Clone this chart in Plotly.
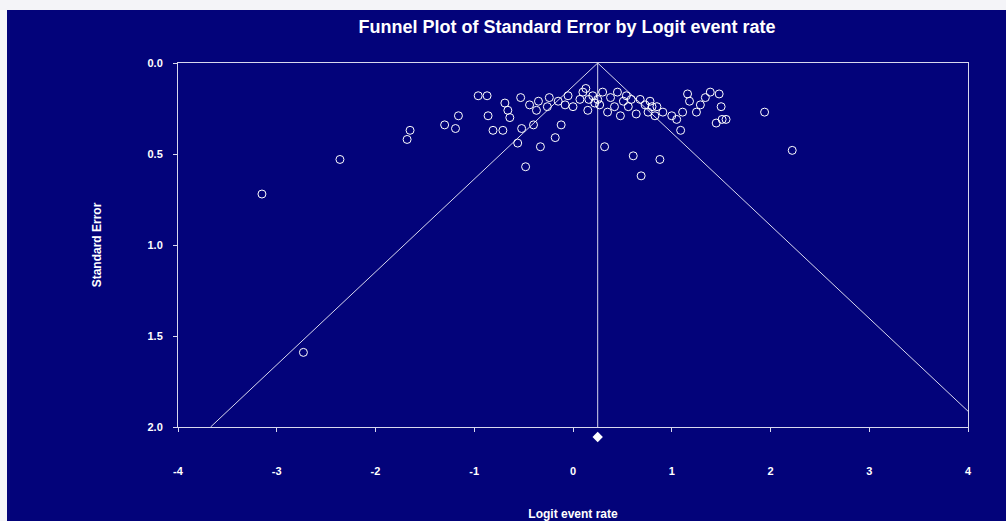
import plotly.graph_objects as go

# Study data (logit event rate, standard error)
logit_rate = [-3.15, -2.73, -2.36, -1.68, -1.65, -1.30, -1.19, -1.16, -0.96, -0.87,
              -0.86, -0.81, -0.71, -0.69, -0.66, -0.64, -0.53, -0.56, -0.52, -0.48,
              -0.44, -0.40, -0.37, -0.35, -0.33, -0.26, -0.24, -0.18, -0.15, -0.12,
              -0.08, -0.05, 0.00, 0.07, 0.10, 0.13, 0.15, 0.16, 0.20, 0.22,
              0.25, 0.27, 0.30, 0.32, 0.35, 0.38, 0.42, 0.45, 0.48, 0.51,
              0.54, 0.56, 0.59, 0.61, 0.64, 0.68, 0.69, 0.73, 0.76, 0.78,
              0.80, 0.83, 0.85, 0.88, 0.91, 1.00, 1.05, 1.09, 1.11, 1.16,
              1.18, 1.25, 1.29, 1.34, 1.39, 1.45, 1.48, 1.50, 1.51, 1.55,
              1.94, 2.22]
std_error = [0.72, 1.59, 0.53, 0.42, 0.37, 0.34, 0.36, 0.29, 0.18, 0.18,
             0.29, 0.37, 0.37, 0.22, 0.26, 0.30, 0.19, 0.44, 0.36, 0.57,
             0.23, 0.34, 0.26, 0.21, 0.46, 0.24, 0.19, 0.41, 0.21, 0.34,
             0.23, 0.18, 0.24, 0.20, 0.16, 0.14, 0.26, 0.20, 0.18, 0.22,
             0.20, 0.23, 0.16, 0.46, 0.27, 0.19, 0.24, 0.16, 0.29, 0.21,
             0.18, 0.24, 0.20, 0.51, 0.28, 0.20, 0.62, 0.23, 0.27, 0.21,
             0.24, 0.29, 0.24, 0.53, 0.27, 0.29, 0.31, 0.37, 0.27, 0.17,
             0.21, 0.27, 0.23, 0.19, 0.16, 0.33, 0.17, 0.24, 0.31, 0.31,
             0.27, 0.48]

pooled_estimate = 0.25
diamond_se = 2.055
se_max = 2.0
z_value = 1.96

x_ticks = [-4, -3, -2, -1, 0, 1, 2, 3, 4]
y_ticks = [0.0, 0.5, 1.0, 1.5, 2.0]

bg = "#03037a"
line_col = "#d8d8ee"
font_family = "Arial, Liberation Sans, sans-serif"

W, H = 1006, 521
L, R, T = 178, 38, 63
axis_bottom_px = 427          # pixel row of SE = 2.0
B = 70                         # extra room below for the pooled diamond
pw = W - L - R
ph = H - T - B
main_frac = (axis_bottom_px - T) / ph
px_per_unit = (axis_bottom_px - T) / se_max
y2_bottom = ph / px_per_unit   # SE value at the bottom of the extended area

fig = go.Figure()

# funnel limits
fig.add_trace(go.Scatter(
    x=[pooled_estimate - z_value * se_max, pooled_estimate, pooled_estimate + z_value * se_max],
    y=[se_max, 0, se_max],
    mode="lines", line=dict(color=line_col, width=1), hoverinfo="skip", showlegend=False))
# vertical line at pooled estimate
fig.add_trace(go.Scatter(
    x=[pooled_estimate, pooled_estimate], y=[0, se_max],
    mode="lines", line=dict(color=line_col, width=1), hoverinfo="skip", showlegend=False))
# studies
fig.add_trace(go.Scatter(
    x=logit_rate, y=std_error, mode="markers",
    marker=dict(symbol="circle-open", size=8, color="white", line=dict(width=1, color="white")),
    showlegend=False))
# pooled diamond (on an invisible axis sharing the same scale, extended downward)
fig.add_trace(go.Scatter(
    x=[pooled_estimate], y=[diamond_se], mode="markers", yaxis="y2", cliponaxis=False,
    marker=dict(symbol="diamond", size=8, color="white"), showlegend=False))

shapes = [
    dict(type="rect", xref="paper", yref="paper", layer="below",
         x0=-L / pw - 0.01, x1=1 + R / pw + 0.01, y0=1 + (T - 10) / ph, y1=1 + T / ph + 0.01,
         fillcolor="#f4f4f8", line=dict(width=0)),
    dict(type="rect", xref="paper", yref="paper", layer="below",
         x0=-L / pw - 0.01, x1=-(L - 7) / pw, y0=-B / ph - 0.01, y1=1 + T / ph + 0.01,
         fillcolor="#f4f4f8", line=dict(width=0)),
]

fig.update_layout(
    width=W, height=H,
    margin=dict(l=L, r=R, t=T, b=B, autoexpand=False),
    paper_bgcolor=bg, plot_bgcolor="rgba(0,0,0,0)",
    font=dict(family=font_family, color="white"),
    shapes=shapes,
    title=dict(text="<b>Funnel Plot of Standard Error by Logit event rate</b>",
               x=(567 - L) / pw, xref="paper", xanchor="center",
               y=1 - 27 / H, yanchor="middle", automargin=False,
               font=dict(size=18, color="white", family=font_family)),
    xaxis=dict(range=[-4, 4], tickvals=x_ticks, ticktext=[f"<b>{v}</b>" for v in x_ticks],
               anchor="y", automargin=False,
               showgrid=False, zeroline=False, showline=True, linecolor=line_col, linewidth=1,
               mirror=True, ticks="outside", ticklen=4, tickcolor=line_col,
               tickfont=dict(size=11, color="white"), ticklabelstandoff=30,
               title=dict(text="<b>Logit event rate</b>", font=dict(size=12, color="white"),
                          standoff=33)),
    yaxis=dict(range=[se_max, 0], domain=[1 - main_frac, 1], automargin=False,
               tickvals=y_ticks, ticktext=[f"<b>{v:.1f}</b>" for v in y_ticks],
               showgrid=False, zeroline=False, showline=True, linecolor=line_col, linewidth=1,
               mirror=True, ticks="outside", ticklen=4, tickcolor=line_col,
               tickfont=dict(size=11, color="white"), ticklabelstandoff=8,
               title=dict(text="<b>Standard Error</b>", font=dict(size=12, color="white"),
                          standoff=43)),
    yaxis2=dict(range=[y2_bottom, 0], domain=[0, 1], anchor="x", visible=False,
                automargin=False, showgrid=False, zeroline=False),
)

fig.write_html("out.html")
